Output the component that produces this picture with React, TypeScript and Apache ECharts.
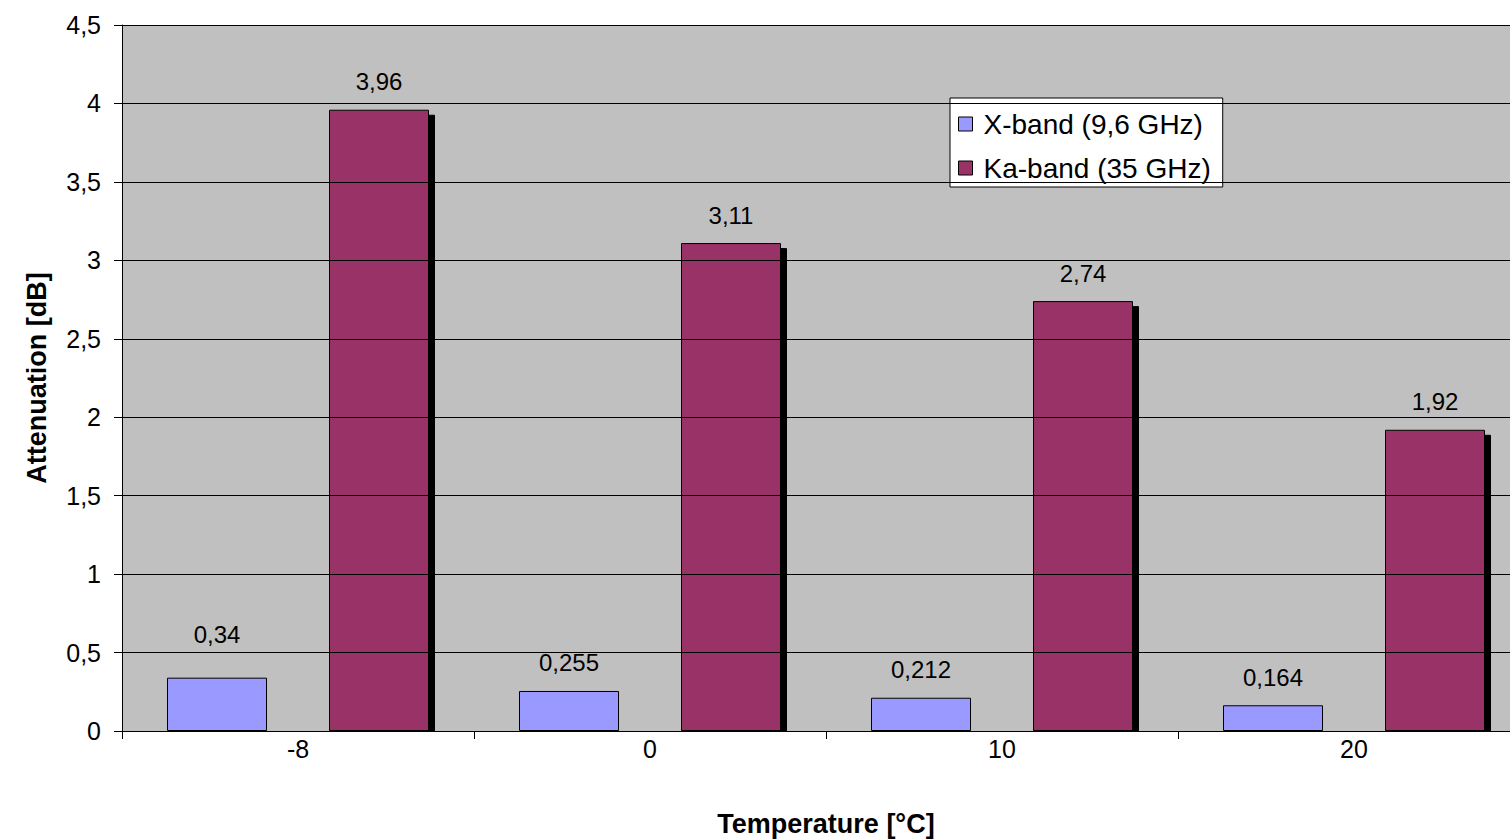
import React, { useEffect, useRef } from "react";
import * as echarts from "echarts";

const categories = ["-8", "0", "10", "20"];
const xBand = [0.34, 0.255, 0.212, 0.164];
const kaBand = [3.96, 3.11, 2.74, 1.92];
const seriesNames = ["X-band (9,6 GHz)", "Ka-band (35 GHz)"];
const yAxisName = "Attenuation [dB]";
const xAxisName = "Temperature [°C]";

const fmt = (v: number) => String(v).replace(".", ",");
const FONT = "Arial, 'Liberation Sans', sans-serif";

export default function App() {
  const ref = useRef<HTMLDivElement>(null);
  useEffect(() => {
    if (!ref.current) return;
    const chart = echarts.init(ref.current, undefined, { renderer: "svg" });
    const labelBase = {
      show: true,
      position: "top",
      distance: 16,
      fontSize: 24,
      color: "#000",
      fontFamily: FONT,
      formatter: (p: any) => fmt(p.value),
    };
    chart.setOption({
      animation: false,
      backgroundColor: "#fff",
      textStyle: { fontFamily: FONT },
      grid: {
        left: 122,
        top: 25,
        bottom: 109,
        width: 1408,
        outerBoundsMode: "none",
        containLabel: false,
        show: true,
        backgroundColor: "#c0c0c0",
        borderWidth: 0,
      },
      legend: {
        orient: "vertical",
        left: 950,
        top: 98,
        backgroundColor: "#fff",
        borderColor: "#000",
        borderWidth: 1,
        padding: [12, 12, 5, 8],
        itemGap: 16,
        itemWidth: 14,
        itemHeight: 14,
        icon: "rect",
        itemStyle: { borderColor: "#000", borderWidth: 1, shadowBlur: 0, shadowOffsetX: 0, shadowOffsetY: 0, shadowColor: "rgba(0,0,0,0)" },
        textStyle: { fontSize: 28, color: "#000", fontFamily: FONT, padding: [0, 0, 0, 6] },
        data: seriesNames,
      },
      xAxis: {
        type: "category",
        data: categories,
        z: 10,
        name: xAxisName,
        nameLocation: "middle",
        nameGap: 79,
        nameTextStyle: { fontSize: 27, fontWeight: "bold", color: "#000", fontFamily: FONT },
        axisLine: { lineStyle: { color: "#000", width: 1 } },
        axisTick: { show: true, length: 8, lineStyle: { color: "#000" } },
        axisLabel: { fontSize: 25, color: "#000", margin: 5, fontFamily: FONT },
      },
      yAxis: {
        type: "value",
        min: 0,
        max: 4.5,
        interval: 0.5,
        z: 10,
        name: yAxisName,
        nameLocation: "middle",
        nameGap: 72,
        nameTextStyle: { fontSize: 27, fontWeight: "bold", color: "#000", fontFamily: FONT },
        axisLine: { show: true, lineStyle: { color: "#000", width: 1 } },
        axisTick: { show: true, length: 8, lineStyle: { color: "#000" } },
        axisLabel: { fontSize: 25, color: "#000", margin: 21, fontFamily: FONT, formatter: (v: number) => fmt(v) },
        splitLine: { show: true, lineStyle: { color: "#000", width: 1 } },
      },
      graphic: [
        {
          type: "rect",
          z: 5,
          shape: { x: 122, y: 732, width: 1400, height: 8 },
          style: { fill: "#fff" },
        },
      ],
      series: [
        {
          name: seriesNames[0],
          type: "bar",
          barWidth: 100,
          barGap: "62%",
          z: 2,
          itemStyle: { color: "#9999ff", borderColor: "#000", borderWidth: 1 },
          label: labelBase,
          data: xBand.map((v, i) => (i === 0 ? { value: v, label: { distance: 31 } } : v)),
        },
        {
          name: seriesNames[1],
          type: "bar",
          barWidth: 100,
          z: 2,
          itemStyle: {
            color: "#993366",
            borderColor: "#000",
            borderWidth: 1,
            shadowColor: "#000",
            shadowBlur: 0,
            shadowOffsetX: 6,
            shadowOffsetY: 5,
          },
          label: labelBase,
          data: kaBand,
        },
      ],
    });
    return () => chart.dispose();
  }, []);
  return (
    <div
      ref={ref}
      style={{ position: "fixed", left: 0, top: 0, width: 1510, height: 840 }}
    />
  );
}
